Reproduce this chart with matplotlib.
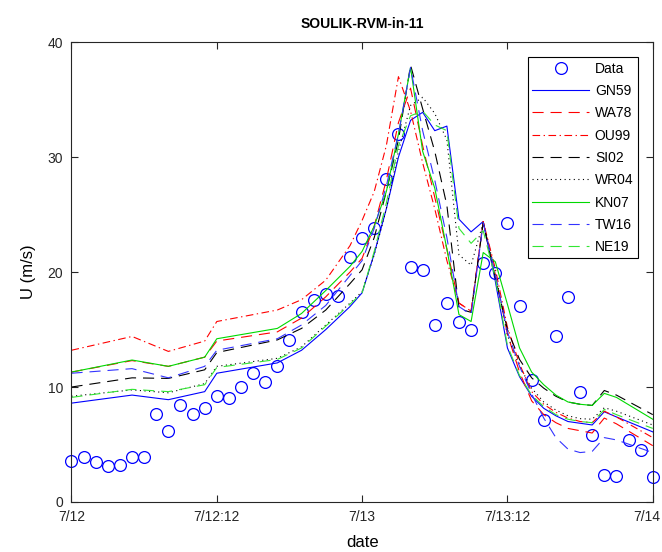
import matplotlib
matplotlib.use("Agg")
import matplotlib.pyplot as plt
import matplotlib.transforms as mtransforms

plt.rcParams['font.family'] = ['Liberation Sans', 'DejaVu Sans']
plt.rcParams['lines.scale_dashes'] = False

# observations, hourly from 7/12 00h to 7/14 00h
obs_hours = list(range(49))
obs_u = [3.6, 3.9, 3.5, 3.1, 3.25, 3.9, 3.95, 7.65, 6.2, 8.45, 7.65, 8.2,
         9.2, 9.05, 10.0, 11.2, 10.45, 11.85, 14.05, 16.55, 17.6, 18.05, 17.95, 21.3,
         23.0, 23.8, 28.1, 32.05, 20.45, 20.15, 15.4, 17.35, 15.7, 15.0, 20.75, 19.9,
         24.3, 17.05, 10.65, 7.1, 14.4, 17.85, 9.6, 5.8, 2.35, 2.25, 5.4, 4.5, 2.2]

# model output times (hours since 7/12 00h)
mod_hours = [0, 5, 8, 11, 12, 17, 19, 21, 23, 24, 25, 26, 27, 28, 29, 30,
             31, 32, 33, 34, 35, 36, 37, 38, 39, 40, 41, 42, 43, 44, 45, 48]

gn59 = [8.6, 9.3, 8.9, 9.6, 11.2, 12.1, 13.2, 15.0, 17.0, 18.2, 21.6, 25.5, 30.0, 33.2, 33.9, 32.3,
        32.7, 24.6, 23.5, 24.4, 19.2, 13.4, 10.9, 9.2, 8.15, 7.5, 7.0, 6.85, 6.7, 7.85, 7.4, 6.1]
wa78 = [11.3, 12.3, 11.8, 12.6, 14.0, 14.8, 16.0, 17.85, 20.0, 21.2, 24.0, 28.0, 33.0, 36.0, 31.0, 26.5,
        22.0, 17.3, 16.6, 24.4, 19.8, 14.6, 11.3, 8.8, 7.6, 6.9, 6.4, 6.2, 6.0, 7.3, 6.8, 4.9]
ou99 = [13.2, 14.4, 13.1, 14.0, 15.7, 16.7, 17.6, 19.3, 22.3, 24.5, 27.0, 31.0, 37.0, 34.0, 29.5, 25.5,
        21.0, 17.3, 16.6, 24.4, 20.3, 15.2, 12.0, 9.6, 8.5, 7.8, 7.3, 7.0, 6.9, 7.9, 7.4, 5.6]
si02 = [10.0, 10.8, 10.75, 11.5, 13.0, 14.1, 15.1, 16.7, 19.0, 20.2, 23.0, 27.0, 31.5, 38.0, 34.2, 30.5,
        25.8, 16.8, 16.5, 24.3, 19.5, 15.0, 12.4, 10.8, 9.9, 9.2, 8.7, 8.5, 8.4, 9.7, 9.3, 7.6]
wr04 = [9.2, 9.75, 9.5, 10.3, 11.8, 12.5, 13.5, 15.4, 17.3, 18.3, 21.5, 25.5, 30.5, 34.5, 35.2, 33.8,
        31.5, 21.5, 20.6, 24.3, 20.0, 14.5, 11.8, 9.9, 8.7, 8.0, 7.5, 7.25, 7.2, 8.2, 7.9, 6.7]
kn07 = [11.3, 12.35, 11.8, 12.6, 14.2, 15.1, 16.4, 18.4, 20.5, 21.8, 24.0, 27.0, 32.0, 37.8, 30.5, 27.3,
        22.0, 16.3, 15.7, 21.7, 20.9, 17.2, 13.4, 11.3, 10.2, 9.3, 8.7, 8.5, 8.4, 9.45, 9.1, 7.2]
tw16 = [11.2, 11.6, 10.8, 11.8, 13.2, 14.2, 15.4, 17.1, 19.7, 21.0, 23.8, 27.5, 32.0, 37.8, 32.3, 28.0,
        23.0, 17.0, 16.3, 24.3, 19.8, 14.8, 11.8, 9.4, 7.3, 5.6, 4.6, 4.3, 4.4, 5.6, 5.4, 4.3]
ne19 = [9.1, 9.8, 9.6, 10.2, 11.7, 12.4, 13.4, 15.3, 17.2, 18.2, 21.8, 26.0, 31.0, 33.6, 34.0, 32.8,
        32.3, 23.8, 22.5, 23.6, 19.5, 13.6, 11.0, 9.3, 8.3, 7.6, 7.2, 7.0, 6.9, 8.05, 7.6, 6.4]

tick_hours = [0, 12, 24, 36, 48]
tick_labels = ['7/12', '7/12:12', '7/13', '7/13:12', '7/14']

green = (0.0, 0.85, 0.0)
dash = (0, (8, 5))
dashdot = (0, (5.5, 2.5, 1, 2.5))
dot = (0, (0.8, 2.5))

fig = plt.figure(figsize=(6.62, 5.52), dpi=100)
ax = fig.add_axes([0.108, 0.0906, 0.878, 0.833])

ax.plot(obs_hours, obs_u, 'o', color='b', mfc='none', ms=8.5, mew=0.9, clip_on=False, label='Data')
ax.plot(mod_hours, gn59, color='b', lw=0.8, linestyle='-', label='GN59')
ax.plot(mod_hours, wa78, color='r', lw=0.8, linestyle=dash, label='WA78')
ax.plot(mod_hours, ou99, color='r', lw=0.8, linestyle=dashdot, label='OU99')
ax.plot(mod_hours, si02, color='k', lw=0.8, linestyle=dash, label='SI02')
ax.plot(mod_hours, wr04, color='k', lw=0.8, linestyle=dot, label='WR04')
ax.plot(mod_hours, kn07, color=green, lw=0.8, linestyle='-', label='KN07')
ax.plot(mod_hours, tw16, color=(0.2, 0.2, 1.0), lw=0.8, linestyle=dash, label='TW16')
ax.plot(mod_hours, ne19, color=(0.2, 0.9, 0.2), lw=0.8, linestyle=dash, label='NE19')

ax.set_xlim(0, 48)
ax.set_ylim(0, 40)
ax.set_xticks(tick_hours)
ax.set_xticklabels(tick_labels)
ax.set_yticks([0, 10, 20, 30, 40])
ax.tick_params(direction='in', top=True, right=True, length=5, width=0.8,
               labelsize=10, colors=(0.15, 0.15, 0.15), pad=6)
for s in ax.spines.values():
    s.set_color((0.15, 0.15, 0.15))
    s.set_linewidth(0.8)

# last date label sits against the right edge, nudge it left
last = ax.get_xticklabels()[-1]
last.set_transform(last.get_transform() + mtransforms.ScaledTranslation(-6 / 100, 0, fig.dpi_scale_trans))

ax.set_xlabel('date', fontsize=12, labelpad=8)
ax.set_ylabel('U (m/s)', fontsize=12, labelpad=8)
ax.set_title('SOULIK-RVM-in-11', fontsize=10, fontweight='bold', pad=10)

leg = ax.legend(loc='upper right', bbox_to_anchor=(0.974, 0.967), borderaxespad=0,
                fontsize=10, numpoints=1, handlelength=4.1, handletextpad=0.4,
                labelspacing=0.6, fancybox=False, framealpha=1, edgecolor='k', borderpad=0.3)
leg.get_frame().set_linewidth(0.8)

plt.savefig('out.png', dpi=100)
